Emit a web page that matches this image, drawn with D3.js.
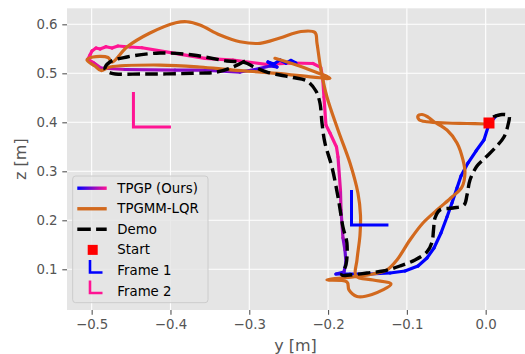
<!DOCTYPE html>
<html>
<head>
<meta charset="utf-8">
<script src="https://cdn.jsdelivr.net/npm/d3@7"></script>
<style>
  body { margin: 0; background: #fff; }
  svg { display: block; }
  text { font-family: "DejaVu Sans", sans-serif; }
</style>
</head>
<body>
<svg id="chart" width="525" height="354"></svg>
<script>
// ---- data: positions in metres, [y, z] ----
const xTicks = [-0.5, -0.4, -0.3, -0.2, -0.1, 0.0];
const yTicks = [0.1, 0.2, 0.3, 0.4, 0.5, 0.6];

// TPGP (ours) trajectory
const tpgpPath = [
  [0.0131, 0.4129], [0.0042, 0.3965], [-0.0022, 0.3639], [-0.0123, 0.3414], [-0.0225, 0.3169],
  [-0.0313, 0.2904], [-0.0364, 0.2659], [-0.0428, 0.2353], [-0.0491, 0.2067], [-0.0567, 0.1741],
  [-0.0656, 0.1435], [-0.0745, 0.1231], [-0.0859, 0.1067], [-0.1024, 0.0965], [-0.1214, 0.0924],
  [-0.1468, 0.0904], [-0.1722, 0.0904], [-0.1900, 0.0904], [-0.1798, 0.0945], [-0.1773, 0.1149],
  [-0.1786, 0.1394], [-0.1811, 0.1639], [-0.1836, 0.2210], [-0.1843, 0.2618], [-0.1874, 0.3292],
  [-0.1893, 0.3496], [-0.1976, 0.3782], [-0.2027, 0.3945], [-0.2052, 0.4516], [-0.2069, 0.4924],
  [-0.2094, 0.5122], [-0.2192, 0.5200], [-0.2445, 0.5210], [-0.2788, 0.5184], [-0.3207, 0.5271],
  [-0.3562, 0.5306], [-0.3942, 0.5408], [-0.4361, 0.5522], [-0.4513, 0.5537], [-0.4666, 0.5557],
  [-0.4742, 0.5516], [-0.4818, 0.5543], [-0.4894, 0.5496], [-0.4945, 0.5516], [-0.4996, 0.5455],
  [-0.5021, 0.5373], [-0.5047, 0.5292], [-0.4970, 0.5210], [-0.4882, 0.5108], [-0.4577, 0.5078],
  [-0.3943, 0.5067], [-0.3562, 0.5067], [-0.3118, 0.5026], [-0.2928, 0.5078], [-0.2737, 0.5149],
  [-0.2648, 0.5129], [-0.2763, 0.5231], [-0.2687, 0.5190], [-0.2611, 0.5271], [-0.2534, 0.5210],
  [-0.2471, 0.5261], [-0.2407, 0.5210]
];
// frame weighting along TPGP: 0 = frame 1 (blue), 1 = frame 2 (pink)
const tpgpWeight = [
  0, 0, 0, 0, 0, 0, 0, 0, 0, 0,
  0, 0, 0, 0, 0, 0, 0, 0, 0.25, 0.35,
  0.45, 0.55, 0.75, 0.85, 0.95, 1, 1, 1, 1, 1,
  1, 1, 1, 1, 1, 1, 1, 1, 1, 1,
  1, 1, 1, 1, 1, 1, 1, 0.95, 0.8, 0.65,
  0.55, 0.5, 0.45, 0.35, 0.2, 0.1, 0, 0, 0, 0,
  0, 0
];

// TPGMM-LQR trajectory
const lqrPath = [
  [0.0004, 0.3965], [-0.0237, 0.3976], [-0.0491, 0.3986], [-0.0745, 0.4012], [-0.0846, 0.4057],
  [-0.0859, 0.4129], [-0.0808, 0.4159], [-0.0732, 0.4108], [-0.0656, 0.4012], [-0.0491, 0.3843],
  [-0.0364, 0.3578], [-0.0288, 0.3231], [-0.0263, 0.2965], [-0.0301, 0.2680], [-0.0428, 0.2476],
  [-0.0618, 0.2210], [-0.0796, 0.1945], [-0.0961, 0.1598], [-0.1126, 0.1190], [-0.1253, 0.0986],
  [-0.1430, 0.0904], [-0.1684, 0.0843], [-0.2014, 0.0782], [-0.1760, 0.0741], [-0.1735, 0.0578],
  [-0.1633, 0.0445], [-0.1443, 0.0486], [-0.1202, 0.0700], [-0.1430, 0.0782], [-0.1646, 0.0863],
  [-0.1633, 0.1190], [-0.1595, 0.1700], [-0.1589, 0.2108], [-0.1621, 0.2557], [-0.1722, 0.3169],
  [-0.1874, 0.3843], [-0.2014, 0.4516], [-0.2090, 0.5067], [-0.2141, 0.5618], [-0.2166, 0.5833],
  [-0.2344, 0.5853], [-0.2611, 0.5720], [-0.2865, 0.5612], [-0.3118, 0.5645], [-0.3372, 0.5782],
  [-0.3626, 0.5986], [-0.3791, 0.6053], [-0.3931, 0.6032], [-0.4260, 0.5822], [-0.4552, 0.5537],
  [-0.4742, 0.5230], [-0.4792, 0.5322], [-0.4984, 0.5333], [-0.5060, 0.5271], [-0.4958, 0.5149],
  [-0.4882, 0.5057], [-0.4768, 0.5129], [-0.4133, 0.5169], [-0.3626, 0.5129], [-0.3207, 0.5067],
  [-0.2648, 0.5000], [-0.2192, 0.4924], [-0.1976, 0.4898], [-0.2293, 0.5108], [-0.2674, 0.5306]
];

// Demonstration
const demoPath = [
  [0.0093, 0.4108], [0.0207, 0.4159], [0.0296, 0.4129], [0.0283, 0.3945], [0.0232, 0.3700],
  [0.0131, 0.3496], [0.0004, 0.3292], [-0.0110, 0.3108], [-0.0199, 0.2822], [-0.0237, 0.2516],
  [-0.0275, 0.2312], [-0.0415, 0.2251], [-0.0580, 0.2210], [-0.0643, 0.2047], [-0.0662, 0.1802],
  [-0.0681, 0.1557], [-0.0745, 0.1353], [-0.0897, 0.1190], [-0.1088, 0.1067], [-0.1303, 0.0965],
  [-0.1506, 0.0924], [-0.1722, 0.0884], [-0.1824, 0.0884], [-0.1773, 0.1088], [-0.1761, 0.1537],
  [-0.1811, 0.1863], [-0.1874, 0.2476], [-0.1951, 0.3088], [-0.2040, 0.3578], [-0.2077, 0.3986],
  [-0.2103, 0.4394], [-0.2154, 0.4639], [-0.2268, 0.4843], [-0.2445, 0.4914], [-0.2611, 0.4965],
  [-0.2776, 0.5026], [-0.2941, 0.5129], [-0.3055, 0.5220], [-0.3283, 0.5251], [-0.3714, 0.5373],
  [-0.4133, 0.5414], [-0.4552, 0.5333], [-0.4768, 0.5231], [-0.4831, 0.5088], [-0.4755, 0.5006],
  [-0.4349, 0.4986], [-0.3714, 0.5000], [-0.3410, 0.5026], [-0.3207, 0.5129], [-0.3029, 0.5271]
];

const startPoint = [0.0042, 0.3986];
// reference frames: origin, end of y-arm, end of z-arm
const frame1 = { origin: [-0.1703, 0.1904], yEnd: -0.1234, zEnd: 0.2618 };
const frame2 = { origin: [-0.4470, 0.3904], yEnd: -0.3994, zEnd: 0.4618 };

const legendLabels = ["TPGP (Ours)", "TPGMM-LQR", "Demo", "Start", "Frame 1", "Frame 2"];

// ---- styling ----
const BLUE = "#0000ff", PINK = "#ff1493", ORANGE = "#d2691e";
const mixColor = d3.interpolateRgb(BLUE, PINK);

const svg = d3.select("#chart");
const plot = { left: 67, right: 525, top: 8.3, bottom: 310 };

const x = d3.scaleLinear().domain([-0.5313, 0.0499]).range([plot.left, plot.right]);
const y = d3.scaleLinear().domain([0.0169, 0.6327]).range([plot.bottom, plot.top]);

// background
svg.append("rect")
  .attr("x", plot.left).attr("y", plot.top)
  .attr("width", plot.right - plot.left).attr("height", plot.bottom - plot.top)
  .attr("fill", "#e5e5e5");

// grid
const grid = svg.append("g");
grid.selectAll("line.gx").data(xTicks).join("line")
  .attr("x1", d => x(d)).attr("x2", d => x(d))
  .attr("y1", plot.top).attr("y2", plot.bottom)
  .attr("stroke", "#fff").attr("stroke-width", 1.1);
grid.selectAll("line.gy").data(yTicks).join("line")
  .attr("y1", d => y(d)).attr("y2", d => y(d))
  .attr("x1", plot.left).attr("x2", plot.right)
  .attr("stroke", "#fff").attr("stroke-width", 1.1);

// axes
const fmt = d => d3.format(".1f")(d).replace("-", "\u2212");
const xAxis = svg.append("g").attr("transform", `translate(0,${plot.bottom})`)
  .call(d3.axisBottom(x).tickValues(xTicks).tickFormat(fmt).tickSize(4.7).tickPadding(4.7));
const yAxis = svg.append("g").attr("transform", `translate(${plot.left},0)`)
  .call(d3.axisLeft(y).tickValues(yTicks).tickFormat(fmt).tickSize(4.7).tickPadding(4.7));
[xAxis, yAxis].forEach(a => {
  a.select(".domain").remove();
  a.selectAll(".tick line").attr("stroke", "#555").attr("stroke-width", 1.1);
  a.selectAll(".tick text").attr("fill", "#555").attr("font-size", "13.33px")
    .attr("font-family", "DejaVu Sans, sans-serif");
});

svg.append("text").attr("x", (plot.left + plot.right) / 2 - 0.5).attr("y", 351)
  .attr("text-anchor", "middle").attr("fill", "#555").attr("font-size", "16px").text("y [m]");
svg.append("text").attr("transform", `translate(25.5,${(plot.top + plot.bottom) / 2}) rotate(-90)`)
  .attr("text-anchor", "middle").attr("fill", "#555").attr("font-size", "16px").text("z [m]");

// clip to the plot area
svg.append("clipPath").attr("id", "clip").append("rect")
  .attr("x", plot.left).attr("y", plot.top)
  .attr("width", plot.right - plot.left).attr("height", plot.bottom - plot.top);
const marks = svg.append("g").attr("clip-path", "url(#clip)");

// TPGP: segments coloured by frame weighting
const segs = d3.pairs(tpgpPath.map((p, i) => ({ p, w: tpgpWeight[i] })));
marks.append("g").selectAll("line").data(segs).join("line")
  .attr("x1", d => x(d[0].p[0])).attr("y1", d => y(d[0].p[1]))
  .attr("x2", d => x(d[1].p[0])).attr("y2", d => y(d[1].p[1]))
  .attr("stroke", d => mixColor((d[0].w + d[1].w) / 2))
  .attr("stroke-width", 3.2).attr("stroke-linecap", "round");

const line = d3.line().x(d => x(d[0])).y(d => y(d[1])).curve(d3.curveCatmullRom.alpha(0.5));

marks.append("path").attr("d", line(lqrPath))
  .attr("fill", "none").attr("stroke", ORANGE).attr("stroke-width", 3.2)
  .attr("stroke-linejoin", "round").attr("stroke-linecap", "round");

marks.append("path").attr("d", line(demoPath))
  .attr("fill", "none").attr("stroke", "#000").attr("stroke-width", 3.4)
  .attr("stroke-dasharray", "12.5,5.4");

// start marker
marks.append("rect")
  .attr("x", x(startPoint[0]) - 5.5).attr("y", y(startPoint[1]) - 5.5)
  .attr("width", 11).attr("height", 11).attr("fill", "#ff0000");

// frames
function drawFrame(f, color) {
  const pts = [[f.origin[0], f.zEnd], f.origin, [f.yEnd, f.origin[1]]];
  marks.append("path").attr("d", d3.line().x(d => x(d[0])).y(d => y(d[1]))(pts))
    .attr("fill", "none").attr("stroke", color).attr("stroke-width", 3);
}
drawFrame(frame1, BLUE);
drawFrame(frame2, PINK);

// ---- legend ----
const lg = svg.append("g");
lg.append("rect").attr("x", 72.7).attr("y", 176).attr("width", 135.3).attr("height", 126.7)
  .attr("rx", 3).attr("fill", "#e5e5e5").attr("fill-opacity", 0.8)
  .attr("stroke", "#cccccc").attr("stroke-width", 1);

const grad = svg.append("defs").append("linearGradient").attr("id", "tpgpGrad")
  .attr("x1", "0%").attr("x2", "100%");
grad.append("stop").attr("offset", "0%").attr("stop-color", BLUE);
grad.append("stop").attr("offset", "100%").attr("stop-color", PINK);

const rowY = i => 192.7 + i * 20.56;
const hx0 = 77.3, hx1 = 106.7;
lg.selectAll("text").data(legendLabels).join("text")
  .attr("x", 117.3).attr("y", (d, i) => rowY(i))
  .attr("fill", "#000").attr("font-size", "13.33px").text(d => d);

lg.append("rect").attr("x", hx0).attr("y", rowY(0) - 4.5 - 1.7).attr("width", hx1 - hx0).attr("height", 3.4)
  .attr("fill", "url(#tpgpGrad)");
lg.append("line").attr("x1", hx0).attr("x2", hx1).attr("y1", rowY(1) - 4.5).attr("y2", rowY(1) - 4.5)
  .attr("stroke", ORANGE).attr("stroke-width", 3.4);
lg.append("line").attr("x1", hx0).attr("x2", hx1).attr("y1", rowY(2) - 4.5).attr("y2", rowY(2) - 4.5)
  .attr("stroke", "#000").attr("stroke-width", 3.4).attr("stroke-dasharray", "13.5,5.3");
lg.append("rect").attr("x", 92.7 - 5).attr("y", rowY(3) - 4.5 - 5).attr("width", 10).attr("height", 10)
  .attr("fill", "#ff0000");
[[4, BLUE], [5, PINK]].forEach(([i, c]) => {
  const cy = rowY(i) - 4.5;
  lg.append("path").attr("d", `M90,${cy - 10.5}V${cy + 2}H102.5`)
    .attr("fill", "none").attr("stroke", c).attr("stroke-width", 2.6);
});
</script>
</body>
</html>
